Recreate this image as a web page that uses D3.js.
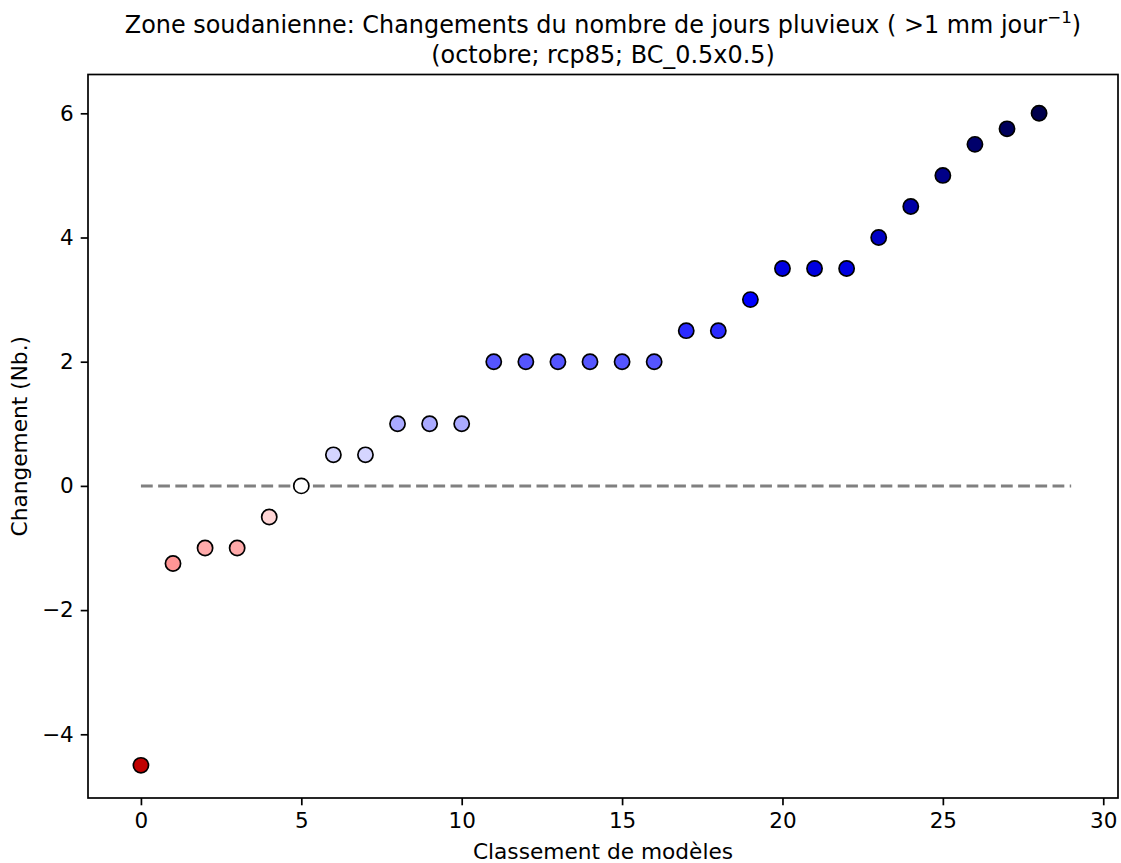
<!DOCTYPE html>
<html><head><meta charset="utf-8">
<script src="https://cdn.jsdelivr.net/npm/d3@7"></script>
<style>body{margin:0;background:#fff}svg{display:block}text{font-family:"DejaVu Sans",sans-serif}</style>
</head><body>
<script>
const ranks = [0,1,2,3,4,5,6,7,8,9,10,11,12,13,14,15,16,17,18,19,20,21,22,23,24,25,26,27,28];
const values = [-4.5,-1.25,-1,-1,-0.5,0,0.5,0.5,1,1,1,2,2,2,2,2,2,2.5,2.5,3,3.5,3.5,3.5,4,4.5,5,5.5,5.75,6];
const xTicks = [0,5,10,15,20,25,30];
const yTicks = [-4,-2,0,2,4,6];
const titleLine1 = "Zone soudanienne: Changements du nombre de jours pluvieux ( >1 mm jour";
const titleSup = "−1";
const titleLine2 = "(octobre; rcp85; BC_0.5x0.5)";
const xLabel = "Classement de modèles";
const yLabel = "Changement (Nb.)";
const colorStops = [-6,-3,0,3,6];
const colorRange = ["#800000","#ff0000","#ffffff","#0000ff","#00004d"];

const W=1121,H=863;
const L=88,R=1118,T=74.5,B=798;
const svg=d3.select("body").append("svg").attr("width",W).attr("height",H);
const x=d3.scaleLinear().domain([-1.65,30.46]).range([L,R]);
const y=d3.scaleLinear().domain([-5.026,6.625]).range([B,T]);
const col=d3.scaleLinear().domain(colorStops).range(colorRange);
const fs=21.5, fsL=21.7, fsT=23.9;

// zero line
svg.append("line").attr("x1",x(0)).attr("x2",x(29)).attr("y1",y(0)).attr("y2",y(0))
  .attr("stroke","#808080").attr("stroke-width",3).attr("stroke-dasharray","11.8,5.4");

// points
svg.append("g").selectAll("circle").data(ranks).join("circle")
  .attr("cx",d=>x(d)).attr("cy",(d,i)=>y(values[i])).attr("r",7.6)
  .attr("fill",(d,i)=>col(values[i])).attr("stroke","#000").attr("stroke-width",1.7);

// axes
const xa=svg.append("g").attr("transform",`translate(0,${B})`)
  .call(d3.axisBottom(x).tickValues(xTicks).tickSize(7.3).tickPadding(7).tickFormat(d3.format("d")));
const ya=svg.append("g").attr("transform",`translate(${L},0)`)
  .call(d3.axisLeft(y).tickValues(yTicks).tickSize(7.3).tickPadding(7).tickFormat(d=>d<0?"−"+Math.abs(d):""+d));
[xa,ya].forEach(a=>{a.select(".domain").remove();a.selectAll("line").attr("stroke","#000").attr("stroke-width",1.7);
  a.selectAll("text").attr("font-size",fs).attr("font-family","DejaVu Sans").attr("fill","#000");});

// frame
svg.append("rect").attr("x",L).attr("y",T).attr("width",R-L).attr("height",B-T)
  .attr("fill","none").attr("stroke","#000").attr("stroke-width",1.7);

// labels
svg.append("text").attr("x",(L+R)/2).attr("y",859).attr("text-anchor","middle").attr("font-size",fsL).text(xLabel);
svg.append("text").attr("transform",`translate(27,${(T+B)/2}) rotate(-90)`).attr("text-anchor","middle").attr("font-size",fsL).text(yLabel);
const t1=svg.append("text").attr("x",(L+R)/2).attr("y",33).attr("text-anchor","middle").attr("font-size",fsT);
t1.append("tspan").text(titleLine1);
t1.append("tspan").attr("font-size",fsT*0.7).attr("dy",-10).text(titleSup);
t1.append("tspan").attr("dy",10).text(")");
svg.append("text").attr("x",(L+R)/2).attr("y",63).attr("text-anchor","middle").attr("font-size",fsT).text(titleLine2);
</script>
</body></html>
